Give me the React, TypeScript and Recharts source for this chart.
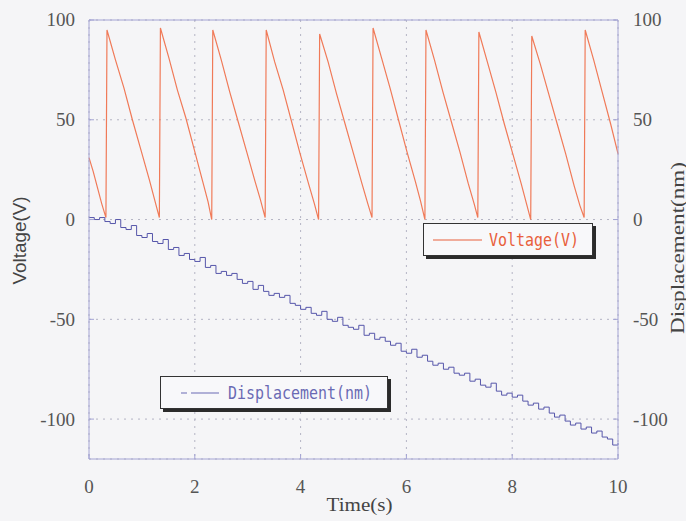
import React from 'react';
import {
  LineChart,
  Line,
  XAxis,
  YAxis,
  CartesianGrid,
  ReferenceLine,
} from 'recharts';

// sawtooth drive voltage (V)
const voltageTimes = [
  0, 0.08, 0.16, 0.24, 0.32,
  0.34, 0.5, 0.66, 0.82, 0.98, 1.14, 1.26, 1.33,
  1.35, 1.51, 1.67, 1.83, 1.99, 2.15, 2.25, 2.32,
  2.34, 2.5, 2.66, 2.82, 2.98, 3.14, 3.24, 3.33,
  3.35, 3.51, 3.67, 3.83, 3.99, 4.15, 4.26, 4.34,
  4.36, 4.52, 4.68, 4.84, 5.0, 5.16, 5.27, 5.35,
  5.37, 5.53, 5.69, 5.85, 6.01, 6.17, 6.27, 6.35,
  6.37, 6.53, 6.69, 6.85, 7.01, 7.17, 7.28, 7.35,
  7.37, 7.53, 7.69, 7.85, 8.01, 8.17, 8.27, 8.35,
  8.37, 8.53, 8.69, 8.85, 9.01, 9.17, 9.28, 9.36,
  9.38, 9.54, 9.7, 9.86, 10,
];
const voltageValues = [
  31, 24, 16, 8, 1,
  95, 80, 66, 50, 35, 20, 8, 1,
  96, 81, 65, 51, 35, 19, 9, 0,
  95, 80, 64, 49, 34, 19, 10, 1,
  95, 79, 65, 49, 33, 18, 8, 0,
  93, 79, 63, 48, 33, 18, 8, 1,
  96, 81, 66, 50, 34, 19, 9, 0,
  95, 80, 64, 49, 34, 18, 8, 1,
  94, 79, 64, 48, 33, 18, 8, 0,
  92, 78, 63, 48, 33, 17, 7, 1,
  95, 80, 64, 48, 33,
];

// measured displacement (nm)
const dispTimes = [
  0, 0.1, 0.2, 0.3, 0.4, 0.5, 0.6, 0.7, 0.8, 0.9,
  1, 1.1, 1.2, 1.3, 1.4, 1.5, 1.6, 1.7, 1.8, 1.9,
  2, 2.1, 2.2, 2.3, 2.4, 2.5, 2.6, 2.7, 2.8, 2.9,
  3, 3.1, 3.2, 3.3, 3.4, 3.5, 3.6, 3.7, 3.8, 3.9,
  4, 4.1, 4.2, 4.3, 4.4, 4.5, 4.6, 4.7, 4.8, 4.9,
  5, 5.1, 5.2, 5.3, 5.4, 5.5, 5.6, 5.7, 5.8, 5.9,
  6, 6.1, 6.2, 6.3, 6.4, 6.5, 6.6, 6.7, 6.8, 6.9,
  7, 7.1, 7.2, 7.3, 7.4, 7.5, 7.6, 7.7, 7.8, 7.9,
  8, 8.1, 8.2, 8.3, 8.4, 8.5, 8.6, 8.7, 8.8, 8.9,
  9, 9.1, 9.2, 9.3, 9.4, 9.5, 9.6, 9.7, 9.8, 9.9,
  10,
];
const dispValues = [
  1, 0, 1, -1, -2, 0, -4, -5, -3, -8,
  -9, -7, -11, -12, -10, -15, -14, -18, -17, -20,
  -21, -19, -24, -23, -27, -26, -28, -27, -30, -32,
  -31, -35, -33, -36, -38, -37, -39, -38, -42, -43,
  -45, -44, -47, -48, -46, -50, -51, -49, -53, -54,
  -55, -53, -58, -57, -60, -59, -61, -63, -62, -66,
  -67, -65, -69, -68, -71, -73, -72, -75, -74, -77,
  -78, -77, -81, -80, -83, -84, -82, -86, -88, -87,
  -89, -88, -91, -93, -92, -95, -94, -97, -99, -98,
  -101, -103, -102, -105, -104, -107, -106, -109, -110, -113,
  -112,
];

const timeTicks = [0, 2, 4, 6, 8, 10];
const valueTicks = [-100, -50, 0, 50, 100];

const voltageData = voltageTimes.map((t, i) => ({ t, v: voltageValues[i] }));
const dispData = dispTimes.map((t, i) => ({ t, d: dispValues[i] }));

const frame = '#a4a4d4';
const serif = '"Liberation Serif", serif';

const SerifTick = ({ x, y, payload, textAnchor, shift }: any) => (
  <text
    x={x}
    y={y}
    dy={shift}
    textAnchor={textAnchor}
    style={{ fontFamily: serif, fontSize: 19, fill: '#555' }}
  >
    {payload.value}
  </text>
);

const LegendBox = ({ left, top, width, color, dash, lineStart, lineLen, gap, label }: any) => (
  <div
    style={{
      position: 'absolute',
      left,
      top,
      width,
      height: 33,
      boxSizing: 'border-box',
      border: '1.5px solid #333',
      boxShadow: '3px 3px 0 #2b2b2b',
      background: '#f8f8fa',
      display: 'flex',
      alignItems: 'center',
    }}
  >
    <svg width={lineLen} height={10} style={{ marginLeft: lineStart, flexShrink: 0 }}>
      <line x1={0} y1={5} x2={lineLen} y2={5} stroke={color} strokeWidth={1} strokeDasharray={dash} />
    </svg>
    <span
      style={{
        fontFamily: '"DejaVu Sans Mono", monospace',
        fontSize: 18,
        color,
        display: 'inline-block',
        transform: 'scaleX(0.83)',
        transformOrigin: 'left center',
        marginLeft: gap,
        whiteSpace: 'nowrap',
      }}
    >
      {label}
    </span>
  </div>
);

export default function App() {
  return (
    <div style={{ position: 'absolute', left: 0, top: 0, width: 686, height: 521, background: '#f5f5f7' }}>
      <LineChart width={686} height={521} margin={{ top: 20, right: 0, bottom: 0, left: 0 }}>
        <CartesianGrid
          xAxisId="x"
          yAxisId="left"
          stroke="#b4b4c4"
          strokeDasharray="2 5"
        />
        <XAxis
          xAxisId="x"
          dataKey="t"
          type="number"
          domain={[0, 10]}
          ticks={timeTicks}
          height={62}
          axisLine={{ stroke: frame }}
          tickLine={{ stroke: frame }}
          tickSize={-5}
          tickMargin={26}
          tick={<SerifTick shift="0.71em" />}
          label={({ viewBox }: any) => (
            <text
              x={viewBox.x + viewBox.width / 2 + 6}
              y={viewBox.y + 52}
              textAnchor="middle"
              textLength={66}
              lengthAdjust="spacingAndGlyphs"
              style={{ fontFamily: serif, fontSize: 19, fill: '#444' }}
            >
              Time(s)
            </text>
          )}
        />
        <YAxis
          yAxisId="left"
          domain={[-120, 100]}
          ticks={valueTicks}
          width={89}
          allowDataOverflow
          axisLine={{ stroke: frame }}
          tickLine={{ stroke: frame }}
          tickSize={-5}
          tickMargin={19}
          tick={<SerifTick shift="0.34em" />}
          label={({ viewBox }: any) => {
            const x = viewBox.x + 20;
            const y = viewBox.y + viewBox.height / 2 + 1;
            return (
              <text
                x={x}
                y={y}
                transform={`rotate(-90 ${x} ${y})`}
                textAnchor="middle"
                dominantBaseline="central"
                textLength={88}
                lengthAdjust="spacingAndGlyphs"
                style={{ fontFamily: '"Liberation Sans", sans-serif', fontSize: 18, fill: '#444' }}
              >
                Voltage(V)
              </text>
            );
          }}
        />
        <YAxis
          yAxisId="right"
          orientation="right"
          domain={[-120, 100]}
          ticks={valueTicks}
          width={68}
          allowDataOverflow
          axisLine={{ stroke: frame }}
          tickLine={{ stroke: frame }}
          tickSize={-5}
          tickMargin={20}
          tick={<SerifTick shift="0.34em" />}
          label={({ viewBox }: any) => {
            const x = viewBox.x + 59;
            const y = viewBox.y + 228;
            return (
              <text
                x={x}
                y={y}
                transform={`rotate(-90 ${x} ${y})`}
                textAnchor="middle"
                dominantBaseline="central"
                textLength={172}
                lengthAdjust="spacingAndGlyphs"
                style={{ fontFamily: serif, fontSize: 19, fill: '#444' }}
              >
                Displacement(nm)
              </text>
            );
          }}
        />
        <ReferenceLine xAxisId="x" yAxisId="left" y={100} stroke={frame} strokeWidth={1} />
        <Line
          xAxisId="x"
          yAxisId="left"
          data={voltageData}
          dataKey="v"
          type="linear"
          stroke="#f07a58"
          strokeWidth={1.2}
          dot={false}
          isAnimationActive={false}
        />
        <Line
          xAxisId="x"
          yAxisId="right"
          data={dispData}
          dataKey="d"
          type="stepAfter"
          stroke="#5656aa"
          strokeWidth={1}
          dot={false}
          isAnimationActive={false}
        />
      </LineChart>
      <LegendBox
        left={423}
        top={223}
        width={170}
        color="#e8603c"
        lineStart={9}
        lineLen={49}
        gap={7}
        label="Voltage(V)"
      />
      <LegendBox
        left={160}
        top={376}
        width={228}
        color="#6a6ab4"
        dash="6 4 28 0"
        lineStart={20}
        lineLen={38}
        gap={9}
        label="Displacement(nm)"
      />
    </div>
  );
}
